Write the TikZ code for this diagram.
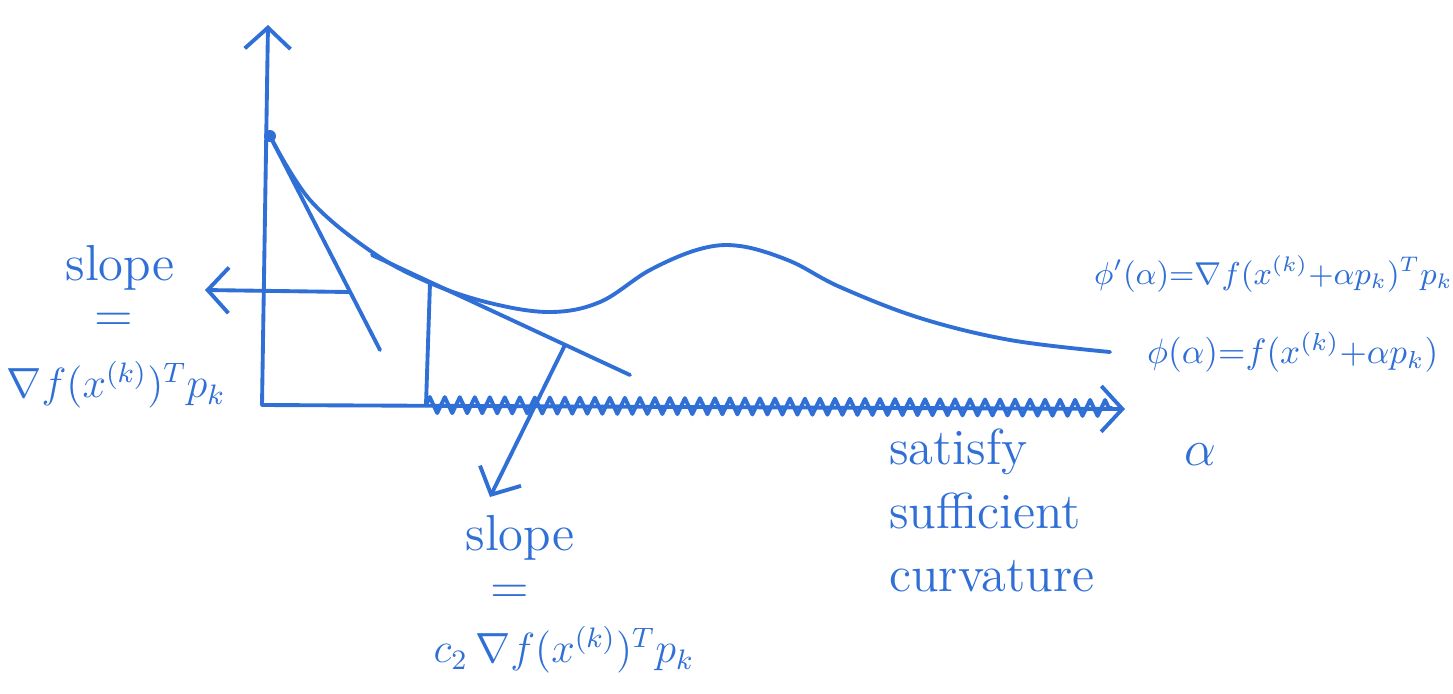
\documentclass[tikz,border=0pt]{standalone}
\usepackage{tikz}
\usetikzlibrary{arrows.meta,positioning,decorations.pathmorphing}
\definecolor{inkcol}{HTML}{2F6FD6}

\begin{document}
\begin{tikzpicture}[
  x=0.01cm, y=-0.01cm,
  font=\Large,
  pen/.style={draw=inkcol,line width=1.1pt,line cap=round,line join=round},
  arr/.style={pen,-{Straight Barb[length=6pt,width=13pt]}},
  lab/.style={text=inkcol,inner sep=1pt},
  zz/.style={pen,decorate,decoration={zigzag,segment length=0.15cm,amplitude=0.08cm}},
]
\useasboundingbox (0,0) rectangle (1453,693);

% axes
\coordinate (O) at (262,405);
\coordinate (ytop) at (268,25);
\coordinate (xend) at (1125,409);
\draw[arr] (O) -- (ytop);
\draw[arr] (O) -- (xend);

% phi(alpha)
\coordinate (P0) at (270,136);
\fill[inkcol] (P0) circle[radius=0.06cm];
\draw[pen] plot[smooth,tension=0.6] coordinates {(270,136) (310,200) (372,252)
  (430,283) (490,303) (550,312) (600,302) (650,270) (700,249) (740,246)
  (790,261) (840,287) (920,318) (1010,340) (1110,352)};

% tangent at alpha = 0
\coordinate (T1) at (380,350);
\draw[pen] (P0) -- (T1);
\coordinate (m1) at (349,292);
\coordinate (m1tip) at (205,290);

% tangent with slope c2 * phi'(0)
\coordinate (A) at (372,255);
\coordinate (B) at (630,375);
\draw[pen] (A) -- (B);
\coordinate (Q) at (430,283);
\coordinate (Qb) at (426,405);
\draw[pen] (Q) -- (Qb);
\coordinate (m2) at (565,345);
\coordinate (m2tip) at (490,497);

% acceptable steps
\coordinate (zzend) at (1112,408);
\draw[zz] (Qb) -- (zzend);

% labels
\node[lab] (s1) at (120,268) {slope};
\node[lab,inner sep=0pt] (e1) at (114,322) {$=$};
\node[lab,font=\large] (g1) at (116,385) {$\nabla f(x^{(k)})^T p_k$};
\draw[arr] (m1) -- (m1tip);

\node[lab] (s2) at (520,538) {slope};
\node[lab,inner sep=0pt] (e2) at (510,594) {$=$};
\node[lab,font=\large] (g2) at (564,650) {$c_2\,\nabla f(x^{(k)})^T p_k$};
\draw[arr] (m2) -- (m2tip);

\node[lab,anchor=west,font=\small] (phid) at (1090,274) {$\phi'(\alpha){=}\nabla f(x^{(k)}{+}\alpha p_k)^T p_k$};
\node[lab,anchor=west,font=\normalsize] (phi) at (1143,352) {$\phi(\alpha){=}f(x^{(k)}{+}\alpha p_k)$};
\node[lab] (alab) at (1200,455) {$\alpha$};
\node[lab,align=left,anchor=north west] (sat) at (885,425) {satisfy\\sufficient\\curvature};
\end{tikzpicture}
\end{document}
